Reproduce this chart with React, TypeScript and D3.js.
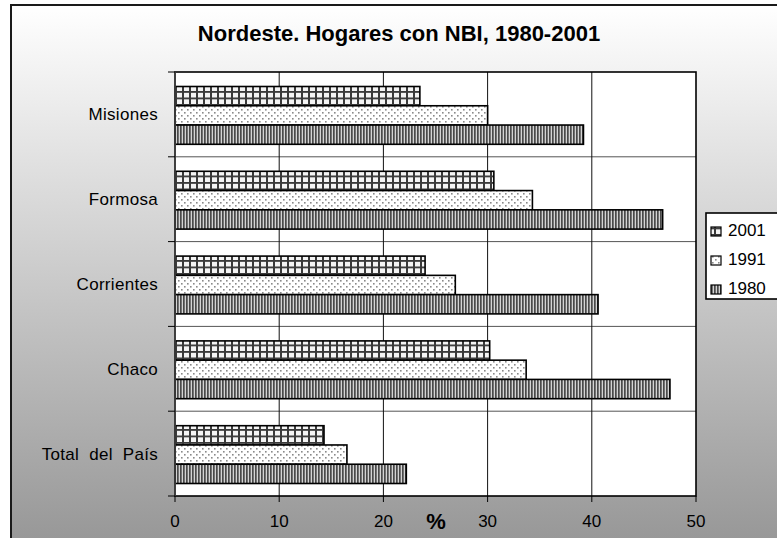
import React from "react";
import * as d3 from "d3";

const categories = ["Misiones", "Formosa", "Corrientes", "Chaco", "Total del País"];
const seriesNames = ["2001", "1991", "1980"];
const values2001 = [23.5, 30.6, 24.0, 30.2, 14.3];
const values1991 = [30.0, 34.3, 26.9, 33.7, 16.5];
const values1980 = [39.2, 46.8, 40.6, 47.5, 22.2];
const xTicks = [0, 10, 20, 30, 40, 50];
const title = "Nordeste. Hogares con NBI, 1980-2001";

const W = 777;
const H = 538;
const plot = { left: 175, right: 696, top: 72, bottom: 496 };
const font = "'Liberation Sans', Arial, sans-serif";

export default function App() {
  const x = d3.scaleLinear().domain([0, 50]).range([plot.left, plot.right]);
  const y = d3.scaleBand<string>().domain(categories).range([plot.top, plot.bottom]).padding(0);
  const bw = y.bandwidth();
  const inner = d3
    .scaleBand<string>()
    .domain(seriesNames)
    .range([14.5, bw - 12.5])
    .padding(0);
  const seriesValues: Record<string, number[]> = {
    "2001": values2001,
    "1991": values1991,
    "1980": values1980,
  };
  const patId: Record<string, string> = { "2001": "pGrid", "1991": "pDots", "1980": "pVert" };

  return (
    <svg
      width={W}
      height={H}
      style={{ position: "absolute", left: 0, top: 0, fontFamily: font }}
    >
      <defs>
        <linearGradient id="bg" x1="0" y1="0" x2="0" y2="1">
          <stop offset="0" stopColor="#ffffff" />
          <stop offset="1" stopColor="#979797" />
        </linearGradient>
        <pattern id="pGrid" width="7" height="6.5" patternUnits="userSpaceOnUse">
          <rect width="7" height="6.5" fill="#f4f4f4" />
          <rect x="0" y="0" width="2" height="6.5" fill="#3a3a3a" />
          <rect x="0" y="0" width="7" height="1.8" fill="#3a3a3a" />
        </pattern>
        <pattern id="pDots" width="6" height="6" patternUnits="userSpaceOnUse">
          <rect width="6" height="6" fill="#ffffff" />
          <rect x="1" y="1" width="1.6" height="1.6" fill="#8a8a8a" />
          <rect x="4" y="4" width="1.6" height="1.6" fill="#8a8a8a" />
        </pattern>
        <pattern id="pVert" width="3" height="4" patternUnits="userSpaceOnUse">
          <rect width="3" height="4" fill="#d4d4d4" />
          <rect x="0" y="0" width="1.7" height="4" fill="#4a4a4a" />
        </pattern>
      </defs>

      <rect x={0} y={0} width={W} height={H} fill="#ffffff" />
      <rect x={11} y={5} width={W} height={H} fill="url(#bg)" stroke="#1a1a1a" strokeWidth={2} />

      <text
        x={399}
        y={41}
        textAnchor="middle"
        fontSize={22}
        fontWeight="bold"
        fill="#000"
      >
        {title}
      </text>

      <rect
        x={plot.left}
        y={plot.top}
        width={plot.right - plot.left}
        height={plot.bottom - plot.top}
        fill="#ffffff"
      />

      {/* horizontal separators */}
      {categories.slice(1).map((c) => (
        <line
          key={"h" + c}
          x1={plot.left}
          x2={plot.right}
          y1={y(c)!}
          y2={y(c)!}
          stroke="#555"
          strokeWidth={1}
        />
      ))}
      {/* vertical grid */}
      {xTicks.slice(1, -1).map((t) => (
        <line
          key={"v" + t}
          x1={x(t)}
          x2={x(t)}
          y1={plot.top}
          y2={plot.bottom}
          stroke="#111"
          strokeWidth={1}
        />
      ))}

      {/* bars */}
      {categories.map((c, i) =>
        seriesNames.map((s) => (
          <rect
            key={c + s}
            x={x(0)}
            y={y(c)! + inner(s)!}
            width={x(seriesValues[s][i]) - x(0)}
            height={inner.bandwidth()}
            fill={`url(#${patId[s]})`}
            stroke="#000"
            strokeWidth={1.6}
          />
        ))
      )}

      {/* plot border */}
      <rect
        x={plot.left}
        y={plot.top}
        width={plot.right - plot.left}
        height={plot.bottom - plot.top}
        fill="none"
        stroke="#000"
        strokeWidth={1.6}
      />
      <line x1={plot.left} x2={plot.left} y1={plot.top} y2={plot.bottom} stroke="#444" strokeWidth={1.6} />

      {/* y ticks */}
      {[...categories.map((c) => y(c)!), plot.bottom].map((v, i) => (
        <line key={"yt" + i} x1={plot.left - 7} x2={plot.left} y1={v} y2={v} stroke="#000" strokeWidth={1} />
      ))}
      {categories.map((c) => (
        <text
          key={"yl" + c}
          x={158}
          y={y(c)! + bw / 2 + 6}
          textAnchor="end"
          fontSize={17}
          letterSpacing={0.3}
          wordSpacing={5}
          fill="#000"
        >
          {c}
        </text>
      ))}

      {/* x ticks */}
      {xTicks.map((t) => (
        <g key={"xt" + t}>
          <line x1={x(t)} x2={x(t)} y1={plot.bottom} y2={plot.bottom + 6} stroke="#000" strokeWidth={1} />
          <text x={x(t)} y={527} textAnchor="middle" fontSize={17} fill="#000">
            {t}
          </text>
        </g>
      ))}
      <text x={436} y={529} textAnchor="middle" fontSize={22} fontWeight="bold" fill="#000">
        %
      </text>

      {/* legend */}
      <rect x={706} y={213} width={80} height={86} fill="#ffffff" stroke="#000" strokeWidth={1.6} />
      {seriesNames.map((s, i) => (
        <g key={"lg" + s}>
          <rect
            x={711}
            y={227 + i * 29}
            width={10}
            height={9}
            fill={`url(#${patId[s]})`}
            stroke="#000"
            strokeWidth={1.2}
          />
          <text x={728} y={236 + i * 29} fontSize={17} fill="#000">
            {s}
          </text>
        </g>
      ))}
    </svg>
  );
}
